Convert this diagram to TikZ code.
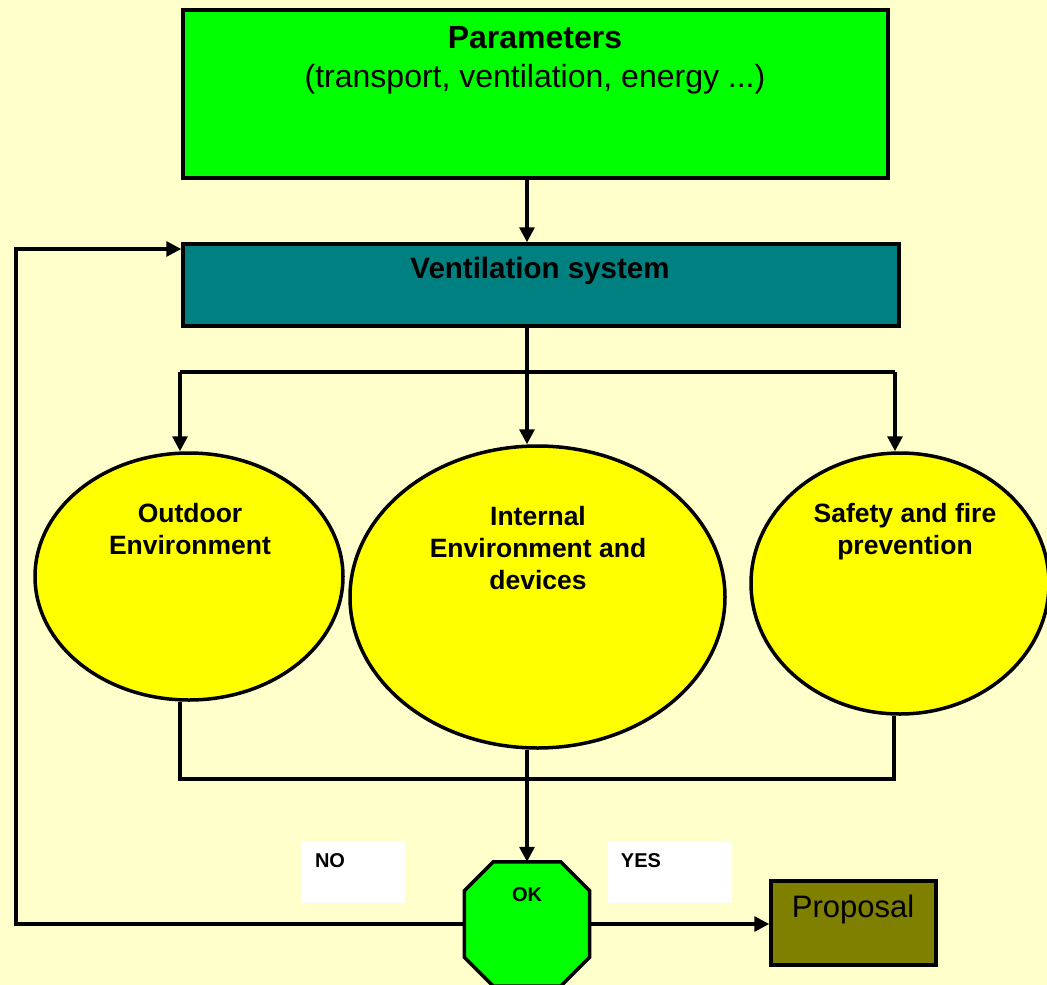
\documentclass[tikz,border=0pt]{standalone}
\usepackage{fontspec}
\setmainfont{Liberation Sans}
\usetikzlibrary{arrows.meta,shapes.geometric}
\definecolor{bgc}{RGB}{255,255,204}
\definecolor{pgreen}{RGB}{0,255,0}
\definecolor{pteal}{RGB}{0,128,128}
\definecolor{pyellow}{RGB}{255,255,0}
\definecolor{polive}{RGB}{128,128,0}
\tikzset{
  boxstyle/.style={draw=black, line width=3.5pt, inner sep=0pt},
  ellstyle/.style={ellipse, draw=black, line width=3.5pt, fill=pyellow, inner sep=0pt},
  conn/.style={draw=black, line width=3.2pt},
  arr/.style={conn, -{Triangle[length=15pt,width=15pt]}},
  ellText/.style={font=\bfseries\fontsize{26.5}{32}\selectfont, align=center, inner sep=0pt},
  smallText/.style={font=\bfseries\fontsize{20}{23}\selectfont, inner sep=0pt},
  labelbox/.style={fill=white, draw=none, inner sep=0pt}
}
\begin{document}
\begin{tikzpicture}[x=1pt,y=-1pt]
\useasboundingbox (0,0) rectangle (1047,985);
\fill[bgc] (0,0) rectangle (1047,985);

% main nodes
\node[boxstyle, fill=pgreen, minimum width=705pt, minimum height=168pt] (params) at (535.5,94) {};
\node[font=\fontsize{32}{39}\selectfont, align=center, inner sep=0pt] (paramstext) at (535,60) {\textbf{Parameters}\\(transport, ventilation, energy ...)};

\node[boxstyle, fill=pteal, minimum width=716pt, minimum height=82pt] (vent) at (541,285) {};
\node[font=\bfseries\fontsize{29.5}{34}\selectfont, inner sep=0pt] (venttext) at (540,271) {Ventilation system};

\node[ellstyle, minimum width=308pt, minimum height=247pt] (leftell) at (189,576.5) {};
\node[ellstyle, minimum width=375pt, minimum height=302pt] (midell) at (537.5,597) {};
\node[ellstyle, minimum width=298pt, minimum height=261pt] (rightell) at (900,583.5) {};

\node[ellText] (lefttext) at (190,529) {Outdoor\\Environment};
\node[ellText] (midtext) at (538,548) {Internal\\Environment and\\devices};
\node[ellText] (righttext) at (905,532) {Safety and fire\\prevention};

\node[labelbox, minimum width=103pt, minimum height=62pt] (nobox) at (353.5,872) {};
\node[labelbox, minimum width=124pt, minimum height=62pt] (yesbox) at (670,872) {};
\node[smallText] (notext) at (330,861) {NO};
\node[smallText] (yestext) at (641,861) {YES};

\node[draw=none, inner sep=0pt, minimum width=125pt, minimum height=124pt] (ok) at (527,924) {};
\fill[pgreen, draw=black, line width=3.5pt, line join=miter]
  ([xshift=29pt]ok.north west) -- ([xshift=-29pt]ok.north east)
  -- ([yshift=-29pt]ok.north east) -- ([yshift=29pt]ok.south east)
  -- ([xshift=-29pt]ok.south east) -- ([xshift=29pt]ok.south west)
  -- ([yshift=29pt]ok.south west) -- ([yshift=-29pt]ok.north west) -- cycle;
\node[smallText] (oktext) at (527,895) {OK};

\node[boxstyle, fill=polive, minimum width=165pt, minimum height=84pt] (prop) at (853.5,923) {};
\node[font=\fontsize{31}{37}\selectfont, inner sep=0pt] (proptext) at (853,909) {Proposal};

% helper coordinates
\coordinate (spine) at (527,0);
\coordinate (bl) at (180,372);
\coordinate (br) at (895,372);
\coordinate (cl) at (180,779);
\coordinate (cr) at (894,779);
\coordinate (loop) at (16,249);

% connectors
\draw[arr] (params.south -| spine) -- (vent.north -| spine);
\draw[arr] (vent.south -| spine) -- (midell.north -| spine);
\draw[conn] (bl) -- (br);
\draw[arr] (bl) -- (leftell.north -| bl);
\draw[arr] (br) -- (rightell.north -| br);
\draw[conn] (leftell.south -| cl) -- (cl) -- (cr) -- (rightell.south -| cr);
\draw[arr] (midell.south -| spine) -- (ok.north -| spine);
\draw[arr] (ok.west) -| (loop) -- (vent.west |- loop);
\draw[arr] (ok.east) -- (prop.west |- ok.east);
\end{tikzpicture}
\end{document}
